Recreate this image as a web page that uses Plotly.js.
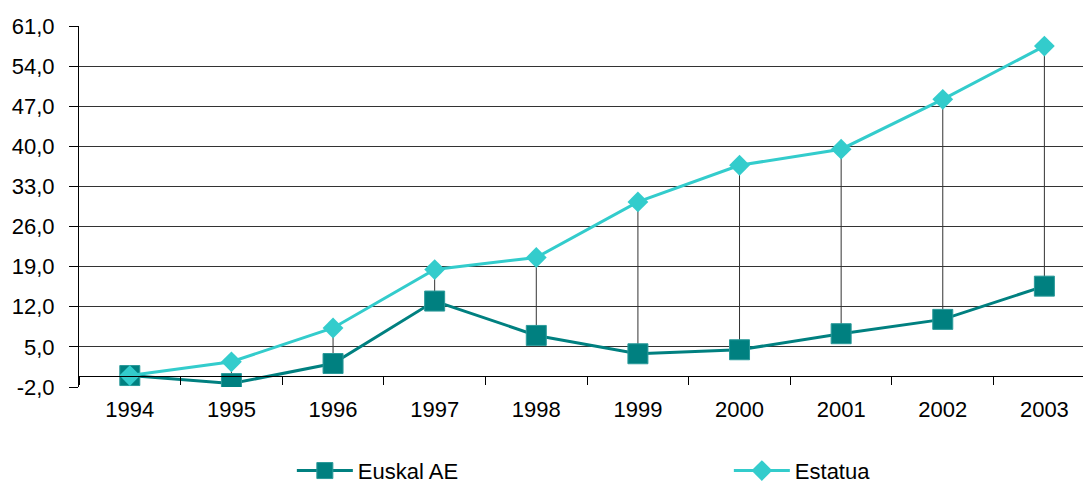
<!DOCTYPE html>
<html>
<head>
<meta charset="utf-8">
<script src="https://cdn.plot.ly/plotly-3.0.1.min.js"></script>
<style>html,body{margin:0;padding:0;background:#fff;}#chart{width:1083px;height:483px;}</style>
</head>
<body>
<div id="chart"></div>
<script>
const years = ['1994','1995','1996','1997','1998','1999','2000','2001','2002','2003'];
const euskalAE = [0.0, -1.4, 2.1, 13.0, 7.0, 3.8, 4.5, 7.3, 9.8, 15.6];
const estatua = [0.0, 2.4, 8.3, 18.5, 20.6, 30.3, 36.7, 39.5, 48.2, 57.5];
const yTicks = [-2, 5, 12, 19, 26, 33, 40, 47, 54, 61];
const yTickText = yTicks.map(v => v.toFixed(1).replace('.', ','));

// high-low connector lines built from the two series
const dropX = [], dropY = [];
years.forEach((yr, i) => {
  dropX.push(yr, yr, null);
  dropY.push(euskalAE[i], estatua[i], null);
});

const traces = [
  {x: dropX, y: dropY, mode: 'lines', line: {color: '#333333', width: 1},
   showlegend: false, hoverinfo: 'skip', connectgaps: false},
  {x: years, y: euskalAE, name: 'Euskal AE', mode: 'lines+markers',
   line: {color: '#008080', width: 3},
   marker: {symbol: 'square', size: 20, color: '#008080', line: {color: '#2a9a9a', width: 1}}},
  {x: years, y: estatua, name: 'Estatua', mode: 'lines+markers',
   line: {color: '#33CCCC', width: 3},
   marker: {symbol: 'diamond', size: 16, color: '#33CCCC'}}
];

const layout = {
  width: 1083, height: 483,
  margin: {l: 79, r: 0, t: 26, b: 96, autoexpand: false},
  paper_bgcolor: '#ffffff', plot_bgcolor: '#ffffff',
  font: {family: 'Liberation Sans, Arial, sans-serif', size: 22, color: '#000000'},
  xaxis: {
    type: 'category',
    range: [-0.5, 9.38],
    anchor: 'free', position: 2 / 63,
    showline: true, linecolor: '#000000', linewidth: 1,
    ticks: 'outside', ticklen: 8, tickcolor: '#000000', tickwidth: 1,
    tickson: 'boundaries',
    ticklabelstandoff: 14,
    showgrid: false, zeroline: false,
    tickfont: {size: 22}
  },
  yaxis: {
    range: [-2, 61],
    tickmode: 'array', tickvals: yTicks, ticktext: yTickText,
    showgrid: true, gridcolor: '#333333', gridwidth: 1,
    showline: true, linecolor: '#000000', linewidth: 1,
    ticks: 'outside', ticklen: 9, tickcolor: '#000000',
    ticklabelstandoff: 10,
    zeroline: false,
    tickfont: {size: 22}
  },
  legend: {
    orientation: 'h', x: 0.212, xanchor: 'left', y: -0.232, yanchor: 'middle',
    itemwidth: 56,
    entrywidth: 366, entrywidthmode: 'pixels',
    font: {size: 22}, bgcolor: 'rgba(0,0,0,0)'
  },
  showlegend: true
};

Plotly.newPlot('chart', traces, layout, {staticPlot: true, displayModeBar: false});
</script>
</body>
</html>
